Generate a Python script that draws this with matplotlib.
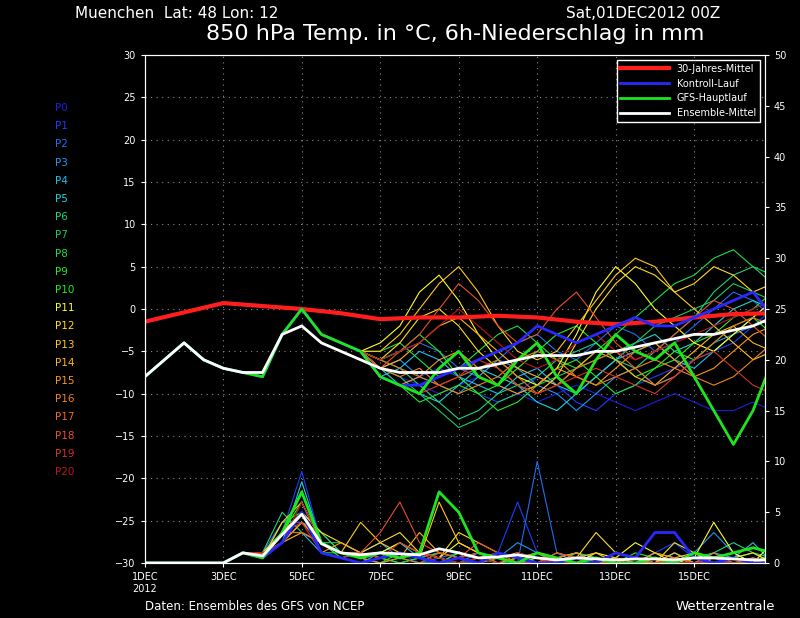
import matplotlib
matplotlib.use("Agg")
import matplotlib.pyplot as plt
import numpy as np

days = [i * 0.5 for i in range(34)]  # 12-hourly, days after 1DEC 00Z

prefix = [-8, -6, -4, -6, -7, -7.5, -8, -3, 0, -3, -4, -5]
tails = [
    [-7,-8,-9,-10,-9,-8,-9,-10,-11,-10,-9,-10,-11,-12,-11,-10,-11,-12,-12,-11,-12,-11],
    [-8,-9,-8,-7,-8,-10,-11,-10,-8,-9,-11,-12,-10,-9,-8,-7,-6,-5,-4,-2,0,1],
    [-6,-5,-4,-5,-7,-8,-6,-4,-3,-5,-6,-4,-2,-3,-5,-4,-2,0,2,1,-1,-2],
    [-7,-6,-8,-9,-10,-8,-6,-7,-9,-10,-12,-10,-8,-7,-9,-8,-6,-4,-3,-2,-1,0],
    [-8,-7,-5,-6,-8,-9,-10,-8,-7,-9,-10,-8,-6,-5,-4,-6,-7,-5,-3,-1,1,2],
    [-7,-9,-10,-11,-9,-7,-8,-9,-11,-12,-10,-8,-6,-4,-3,-5,-4,-2,0,1,0,-1],
    [-6,-7,-9,-11,-13,-12,-10,-9,-8,-6,-5,-4,-6,-7,-5,-3,-1,2,4,5,3,4],
    [-7,-8,-10,-12,-14,-13,-11,-10,-9,-8,-7,-6,-5,-4,-2,-1,0,1,3,2,1,2],
    [-5,-4,-6,-8,-7,-5,-3,-2,-4,-6,-7,-5,-3,-1,1,3,4,6,7,5,4,5],
    [-8,-9,-11,-10,-9,-10,-12,-11,-9,-7,-6,-8,-10,-9,-7,-6,-4,-3,-1,0,2,3],
    [-6,-5,-3,-5,-8,-10,-9,-7,-5,-3,-2,-4,-6,-8,-7,-5,-6,-4,-2,-1,-3,-2],
    [-4,-2,2,4,1,-3,-6,-8,-9,-7,-3,2,5,3,0,-2,-4,-5,-3,-1,1,0],
    [-6,-4,-1,0,-2,-5,-7,-9,-10,-8,-4,0,3,5,4,2,3,5,4,2,3,1],
    [-5,-3,0,3,5,2,-2,-5,-6,-5,-2,1,4,6,5,2,0,-2,-4,-6,-5,-4],
    [-7,-6,-4,-2,-1,-3,-5,-7,-8,-9,-7,-5,-6,-8,-9,-7,-5,-3,-2,-4,-5,-3],
    [-8,-9,-8,-6,-5,-7,-9,-10,-9,-7,-8,-9,-7,-5,-4,-6,-8,-7,-5,-3,-2,-1],
    [-7,-8,-7,-9,-10,-9,-8,-6,-5,-6,-8,-9,-8,-7,-6,-7,-8,-9,-8,-6,-4,-3],
    [-6,-7,-8,-9,-8,-7,-6,-8,-10,-9,-7,-6,-5,-7,-9,-8,-6,-4,-2,-1,-2,-3],
    [-7,-5,-3,0,3,1,-2,-4,-3,0,2,-1,-4,-6,-5,-3,-1,1,0,-2,-4,-5],
    [-8,-9,-10,-9,-8,-6,-7,-9,-10,-9,-8,-7,-8,-9,-10,-8,-6,-5,-7,-9,-10,-8],
    [-6,-5,-4,-2,0,-2,-4,-6,-7,-6,-4,-3,-5,-6,-5,-4,-3,-2,-1,0,1,-1],
]
control_tail = [-8,-9,-9,-8,-7,-6,-5,-4,-2,-3,-4,-3,-2,-1,-2,-2,-1,0,1,2,-1,-4]
gfs_tail = [-8,-9,-10,-7,-5,-8,-9,-6,-4,-8,-10,-6,-3,-5,-6,-4,-8,-12,-16,-12,-6,-2]
ens_mean = [-8,-6,-4,-6,-7,-7.5,-7.5,-3,-2,-4,-5,-6,-7,-7.5,-7.5,-7.5,-7,-7,-6.5,-6,-5.5,-5.5,
            -5.5,-5,-5,-4.5,-4,-3.5,-3,-3,-2.5,-2,-1,-1]
clim_days = [0, 2, 4, 5, 6, 7, 8, 9, 10, 11, 12, 13, 14, 15, 16, 16.75]
clim = [-1.5, 0.7, 0, -0.5, -1.2, -1, -1, -0.8, -1, -1.5, -1.8, -1.5, -1, -0.6, -0.5, -0.5]

p_prefix = [0, 0, 0, 0, 0]
p_tails = [
    [1,0.5,2,6,1,0.5,0,0.5,1,0,0,0.5,1,0.5,0,0,0.5,0,0,1,0.5,0,0,0.5,0,0,0,0.5,0],
    [1,0.5,3,9,2,0.5,1,0.5,0,0.5,1,0.5,0,1,6,1,0.5,0,0,0.5,0,1,2,0.5,0,0,0.5,0,0],
    [1,1,4,4,2,1,0.5,1,0.5,0,0.5,1,0.5,0,0,10,1,0,0.5,0,0,0,1,0,0.5,0,0,1,0],
    [1,0.5,2,5,3,1,1,2,0.5,1,0.5,0,1,0.5,2,1,0,0.5,1,0,0.5,0,0,1,3,1,0,0.5,0],
    [1,1,3,3,1,0.5,0,1,2,0.5,1,0.5,0,0.5,0,0,0.5,1,0.5,0,0,0.5,0,0,1,0.5,2,0,0],
    [1,0.5,2,8,2,1,0.5,0,0.5,1,0.5,0,0,0.5,1,0.5,0,0,0.5,0,0,1,0.5,0,0,0.5,0,0,0],
    [1,1,5,3,2,1,1,0.5,1,0.5,0,1,0.5,0,0.5,0,0,0.5,0,0,0.5,0,0,0.5,1,2,1,0.5,0],
    [1,0.5,3,7,2,2,1,0.5,0,0.5,1,0.5,0,1,0.5,0,0.5,0,0,0.5,0,0,1,0,0,0.5,1,0,0],
    [1,1,2,4,3,1,0.5,1,0.5,0,0,0.5,1,0.5,0,0.5,0,1,0.5,0,0,0.5,0,0,0.5,0,0,1,0],
    [1,0.5,4,5,1,1,0.5,0,1,0.5,0,0,0.5,0,0.5,1,0,0,0.5,0,1,0.5,0,0,0.5,0,0,0.5,0],
    [1,1,3,6,2,0.5,1,0.5,0,0.5,0,1,0.5,0,0,0.5,0,0.5,0,0,0.5,0,0,1,0.5,0,0.5,0,0],
    [1,0.5,2,4,2,1,0.5,1,2,1,0.5,2,1,0.5,0,1,0.5,0,1,0.5,2,1,0,0.5,4,1,0,2,0.5],
    [1,1,3,5,3,2,1,2,3,1,0.5,3,2,1,0.5,0,1,0.5,3,1,0.5,0,2,1,0,0.5,1,0,0],
    [1,0.5,4,6,2,1,4,2,1,0.5,6,2,1,0.5,1,0,0.5,1,0,0.5,0,0,0.5,1,0,0.5,0,0,0.5],
    [1,1,2,3,2,1,0.5,1,0.5,3,1,0.5,0,1,0.5,0,0,0.5,1,0,0.5,0,1,0,0,0.5,0,0,0],
    [1,0.5,3,5,1,2,1,0.5,1,0.5,0,0.5,1,0,0.5,1,0,0,0.5,0,0,1,0.5,0,0,0.5,0,0.5,0],
    [1,1,2,4,2,1,0.5,0,0.5,1,0.5,0,0.5,1,0,0,0.5,1,0,0.5,0,0,0.5,0,1,0,0,0.5,0],
    [1,0.5,3,3,2,1,0.5,1,0.5,0,1,0.5,0,0.5,0,1,0,0.5,0,0,0.5,0,0,1,0.5,0,0,0,0.5],
    [1,1,2,5,2,1,1,3,6,2,1,0.5,2,1,0.5,0,1,0.5,0,0,0.5,0,0.5,0,0,0,0.5,0,0],
    [1,0.5,3,4,1,0.5,1,0.5,2,1,0,0.5,1,0.5,0,0,0.5,0,0.5,0,0,0.5,0,0,0.5,0,0,0,0],
    [1,1,2,6,2,1,0.5,1,0.5,1,0.5,0,0.5,0,1,0.5,0,0,0.5,0,0,0.5,0,0,0,0.5,0,0,0],
]
control_p = [0,0,0,0,0,1,0.5,2,5,1,0.5,0,0.5,1,0.5,0,0.5,0,1,0.5,0,0,0.5,0,1,0.5,3,3,0.5,0,0.5,0,0,0]
gfs_p = [0,0,0,0,0,1,0.5,3,7,2,1,0.5,1,0.5,1,7,5,1,0.5,0,1,0.5,0,0.5,0,0,0.5,0,1,0.5,1,1.5,1,0.5]
mean_p = [0,0,0,0,0,1,0.7,2.8,4.8,1.9,1,0.8,1,0.9,0.8,1.4,1,0.5,0.6,0.8,0.5,0.3,0.5,0.4,0.3,0.4,0.4,0.3,0.5,0.5,0.4,0.3,0.3,0.2]

member_colors = ["#1e1edc", "#1e3cff", "#1e6ef0", "#1e96f0", "#1ebef0", "#1ed2d2", "#1ed282",
                 "#1ec864", "#1edc46", "#28e628", "#1ef01e", "#ffff1e", "#ffdc1e", "#ffc81e",
                 "#ffb41e", "#fa961e", "#f0821e", "#e66e1e", "#e65028", "#d23228", "#be141e"]

fig = plt.figure(figsize=(8, 6.18), dpi=100, facecolor="black")
ax = fig.add_axes([0.181, 0.089, 0.775, 0.822], facecolor="black")
ax2 = ax.twinx()

for i, t in enumerate(tails):
    ax.plot(days, prefix + t, color=member_colors[i], lw=0.8)
    ax2.plot(days, p_prefix + p_tails[i], color=member_colors[i], lw=0.8)
ax2.plot(days, control_p, color="#2828ff", lw=2)
ax2.plot(days, gfs_p, color="#1ee61e", lw=2)
ax2.plot(days, mean_p, color="white", lw=2)

ax.plot(clim_days, clim, color="#ff1e1e", lw=3, label="30-Jahres-Mittel")
ax.plot(days, prefix + control_tail, color="#2828ff", lw=2, label="Kontroll-Lauf")
ax.plot(days, prefix + gfs_tail, color="#1ee61e", lw=2, label="GFS-Hauptlauf")
ax.plot(days, ens_mean, color="white", lw=2, label="Ensemble-Mittel")

ax.set_xlim(0, 15.8)
ax.set_ylim(-30, 30)
ax2.set_ylim(0, 50)
ax.set_yticks(range(-30, 31, 5))
ax2.set_yticks(range(0, 51, 5))
ax.set_xticks([0, 2, 4, 6, 8, 10, 12, 14])
ax.set_xticklabels(["1DEC\n2012", "3DEC", "5DEC", "7DEC", "9DEC", "11DEC", "13DEC", "15DEC"])
for a in (ax, ax2):
    a.tick_params(colors="white", labelsize=7, length=3)
    for s in a.spines.values():
        s.set_color("white")
ax.grid(True, color="#888888", linestyle=(0, (1, 4)), lw=0.8)

leg = ax.legend(loc="upper right", fontsize=7, facecolor="black", edgecolor="white",
                labelcolor="white", framealpha=1, handlelength=5, markerfirst=True)
leg.get_frame().set_boxstyle("square", pad=0)

fig.text(75/800, 1-14/618, "Muenchen  Lat: 48 Lon: 12", color="white", fontsize=11, va="center")
fig.text(720/800, 1-14/618, "Sat,01DEC2012 00Z", color="white", fontsize=11, va="center", ha="right")
fig.text(455/800, 1-34/618, "850 hPa Temp. in °C, 6h-Niederschlag in mm", color="white",
         fontsize=16, va="center", ha="center")
fig.text(145/800, 1-607/618, "Daten: Ensembles des GFS von NCEP", color="white", fontsize=8.5, va="center")
fig.text(775/800, 1-607/618, "Wetterzentrale", color="white", fontsize=9.5, va="center", ha="right")
for i in range(21):
    fig.text(55/800, 1-(108+i*18.2)/618, f"P{i}", color=member_colors[i], fontsize=7.5, va="center")

fig.savefig("out.png", dpi=100, facecolor="black")
